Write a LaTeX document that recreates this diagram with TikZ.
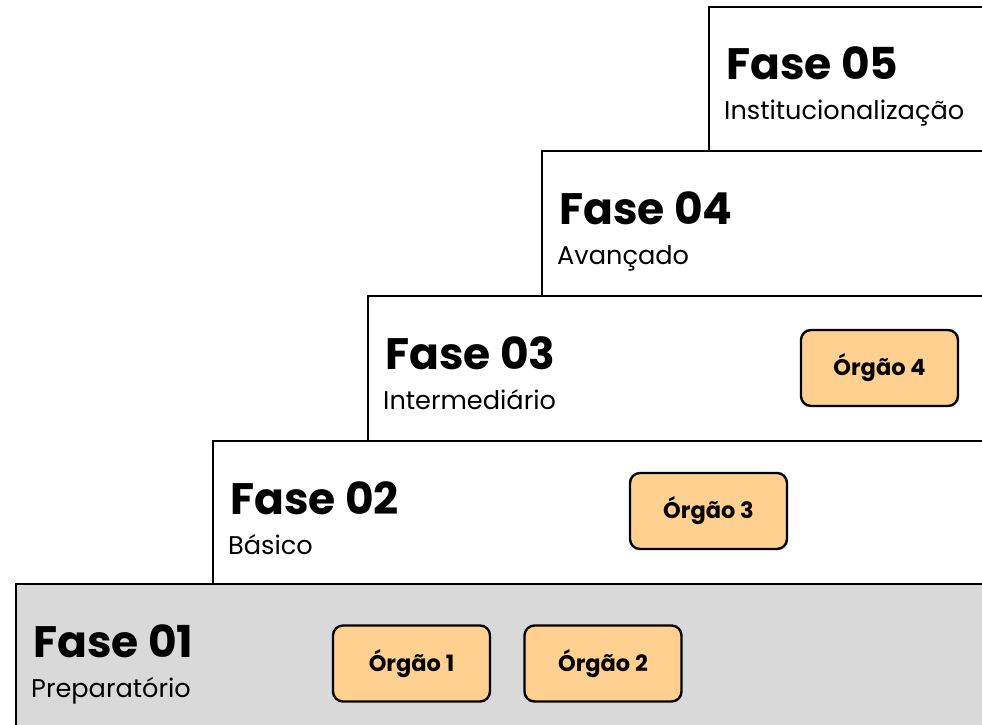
\documentclass[tikz,border=0pt]{standalone}
\usepackage{fontspec}
\setmainfont{Poppins}
\definecolor{orgfill}{HTML}{FFD08F}
\definecolor{basefill}{HTML}{D9D9D9}
\begin{document}
\begin{tikzpicture}[x=1pt,y=-1pt,
  phase/.style={draw=black,line width=2.6pt,fill=white,anchor=north west,inner sep=0pt,outer sep=0pt},
  title/.style={anchor=base west,inner sep=0pt,font=\fontsize{44}{50}\selectfont\bfseries},
  sub/.style={anchor=base west,inner sep=0pt,font=\fontsize{25.6}{28}\selectfont},
  organ/.style={draw=black,line width=2.4pt,fill=orgfill,rounded corners=10pt,minimum width=157pt,minimum height=76pt,inner sep=0pt,font=\fontsize{22.5}{25}\selectfont\bfseries}]
\useasboundingbox (0,0) rectangle (982,725);
\clip (0,0) rectangle (982,725);
\node[phase,minimum width=320pt,minimum height=760pt] (p5) at (709,7) {};
\node[phase,minimum width=480pt,minimum height=620pt] (p4) at (542,151) {};
\node[phase,minimum width=660pt,minimum height=480pt] (p3) at (368,296) {};
\node[phase,minimum width=820pt,minimum height=330pt] (p2) at (213,441) {};
\node[phase,fill=basefill,minimum width=1000pt,minimum height=200pt] (p1) at (16,584) {};
\node[title] (t5) at (726,80) {Fase 05};
\node[sub] (s5) at (724,119) {Institucionalização};
\node[title] (t4) at (559,224) {Fase 04};
\node[sub] (s4) at (557,264) {Avançado};
\node[title] (t3) at (385,369) {Fase 03};
\node[sub] (s3) at (383,409) {Intermediário};
\node[title] (t2) at (230,514) {Fase 02};
\node[sub] (s2) at (228,554) {Básico};
\node[title] (t1) at (33,657) {Fase 01};
\node[sub] (s1) at (31,697) {Preparatório};
\node[organ] (o1) at (411.5,663.5) {Órgão 1};
\node[organ] (o2) at (603,663.5) {Órgão 2};
\node[organ] (o3) at (708.5,511) {Órgão 3};
\node[organ] (o4) at (879.5,368) {Órgão 4};
\end{tikzpicture}
\end{document}
